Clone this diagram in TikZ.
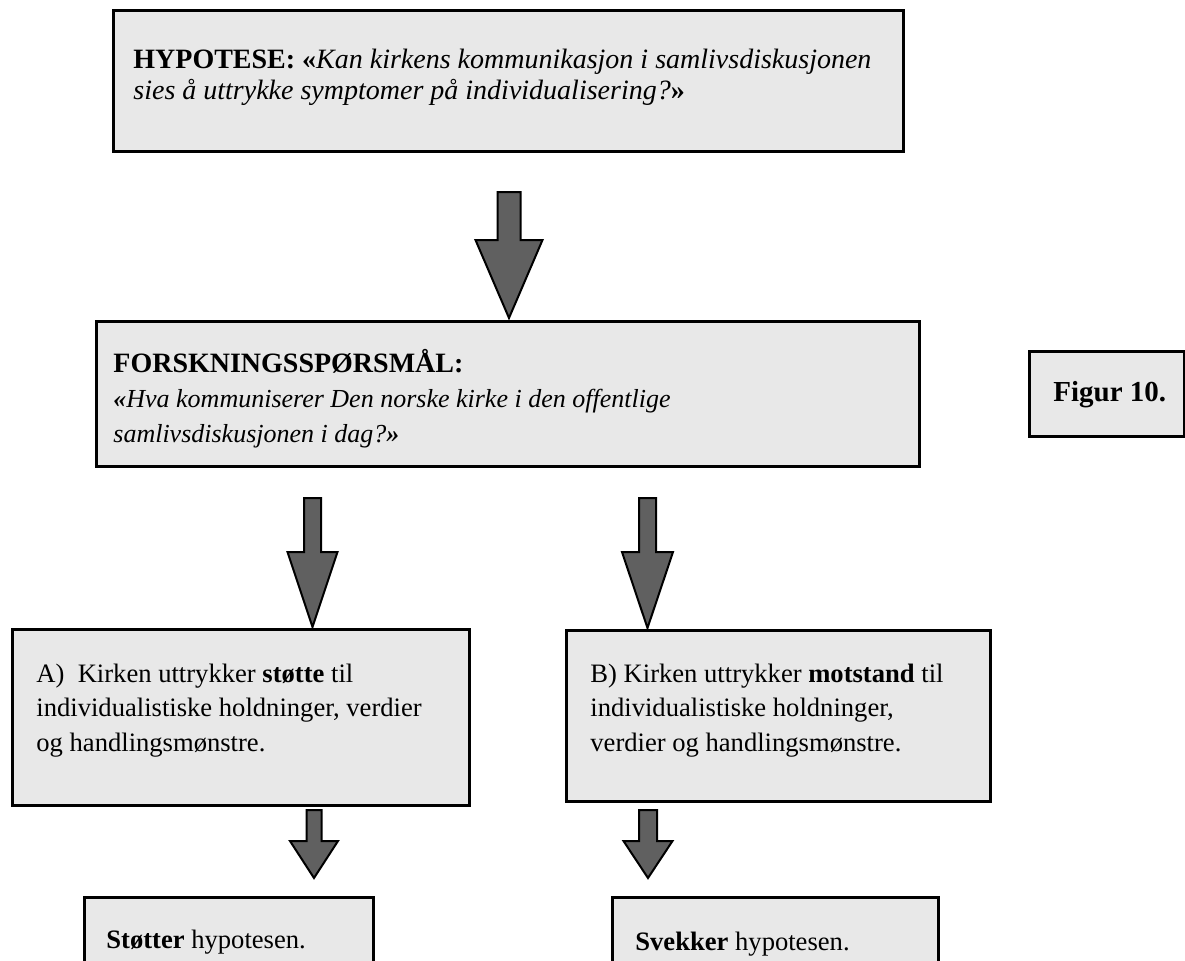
\documentclass[tikz,border=0pt]{standalone}
\usepackage{fontspec}
\setmainfont{Liberation Serif}
\definecolor{boxgray}{HTML}{E8E8E8}
\definecolor{arrowgray}{HTML}{606060}
\tikzset{
  box/.style={draw=black, line width=1.5pt, fill=boxgray, anchor=north west, inner sep=0pt},
  blockarrow/.style={draw=black, line width=1pt, fill=arrowgray, line join=miter},
  headtxt/.style={anchor=base west, inner sep=0pt, align=left, font={\fontsize{14pt}{15.5pt}\selectfont}},
  forktxt/.style={anchor=base west, inner sep=0pt, align=left, font={\fontsize{13pt}{17.5pt}\selectfont}},
  bodytxt/.style={anchor=base west, inner sep=0pt, align=left, font={\fontsize{13.3pt}{17.25pt}\selectfont}},
  figtxt/.style={anchor=base west, inner sep=0pt, font={\bfseries\fontsize{14.5pt}{17pt}\selectfont}}
}
% block arrow: centre x, top y, head y, tip y, half shaft, half head
\newcommand\blockarrow[6]{%
  \draw[blockarrow] ({#1-#5},#2) -- ({#1+#5},#2) -- ({#1+#5},#3) -- ({#1+#6},#3)
    -- (#1,#4) -- ({#1-#6},#3) -- ({#1-#5},#3) -- cycle;}
\begin{document}
\begin{tikzpicture}[x=0.5pt, y=-0.5pt]
\useasboundingbox (0,0) rectangle (1185,960);
\clip (0,0) rectangle (1185,960);

% boxes
\node[box, minimum width=395pt, minimum height=70.5pt] (hyp) at (112,9) {};
\node[box, minimum width=411.5pt, minimum height=72.5pt] (fork) at (95,320) {};
\node[box, minimum width=77.5pt, minimum height=42.5pt] (fig) at (1028,350) {};
\node[box, minimum width=228.5pt, minimum height=88pt] (boxA) at (11,628) {};
\node[box, minimum width=212pt, minimum height=85.5pt] (boxB) at (565,629) {};
\node[box, minimum width=144.5pt, minimum height=60pt] (resA) at (83,896) {};
\node[box, minimum width=163pt, minimum height=60pt] (resB) at (611,896) {};

% texts (anchored at the baseline of the last line)
\node[headtxt] (hyptxt) at (133,99) {\textbf{HYPOTESE: «}\textit{Kan kirkens kommunikasjon i samlivsdiskusjonen}\\\textit{sies å uttrykke symptomer på individualisering?}\textbf{»}};
\node[forktxt] (forktxt) at (113,442) {{\fontsize{14pt}{17.5pt}\selectfont\textbf{FORSKNINGSSPØRSMÅL:}}\\\textit{\textbf{«}Hva kommuniserer Den norske kirke i den offentlige}\\\textit{samlivsdiskusjonen i dag?\textbf{»}}};
\node[figtxt] (figtxt) at (1053,401) {Figur 10.};
\node[bodytxt] (txtA) at (36,751) {A)\ \ Kirken uttrykker \textbf{støtte} til\\individualistiske holdninger, verdier\\og handlingsmønstre.};
\node[bodytxt] (txtB) at (590,751) {B) Kirken uttrykker \textbf{motstand} til\\individualistiske holdninger,\\verdier og handlingsmønstre.};
\node[bodytxt] (txtresA) at (106,948) {\textbf{Støtter} hypotesen.};
\node[bodytxt] (txtresB) at (635,950) {\textbf{Svekker} hypotesen.};

% block arrows
\blockarrow{509}{192}{240}{318}{11.5}{33.5}
\blockarrow{312.5}{498}{552}{627}{8.5}{25}
\blockarrow{647.5}{498}{552}{628}{8.5}{25.5}
\blockarrow{314}{810}{841}{878}{7.5}{24}
\blockarrow{648}{810}{841}{878}{9}{24.5}
\end{tikzpicture}
\end{document}
